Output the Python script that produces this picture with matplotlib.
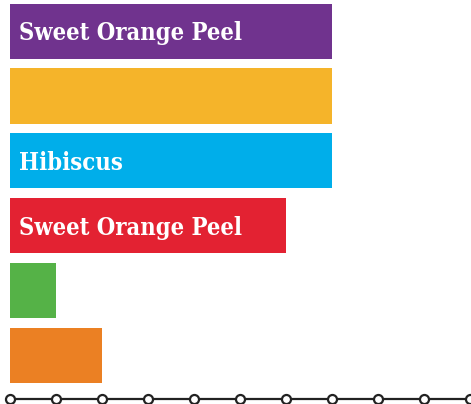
import matplotlib
matplotlib.use("Agg")
import matplotlib.pyplot as plt

# bars listed top to bottom
values = [7, 7, 7, 6, 1, 2]
labels = ["Sweet Orange Peel", "", "Hibiscus", "Sweet Orange Peel", "", ""]
colors = ["#70338E", "#F5B42A", "#00AEEA", "#E32232", "#55B247", "#EB8023"]
ticks = list(range(0, 11))

fig = plt.figure(figsize=(4.71, 4.04), dpi=100)
ax = fig.add_axes([10 / 471, 5 / 404, 460 / 471, 397 / 404])

ypos = list(range(len(values) - 1, -1, -1))
ax.barh(ypos, values, height=0.85, color=colors, left=0)

for y, v, lab in zip(ypos, values, labels):
    if lab:
        ax.text(0.2, y - 0.03, lab, color="white", fontsize=17, fontweight="bold",
                family="DejaVu Serif", fontstretch="condensed", va="center", ha="left")

ax.set_xlim(0, 10)
ax.set_ylim(-0.672, 5.45)

for s in ["top", "right", "left"]:
    ax.spines[s].set_visible(False)
ax.spines["bottom"].set_color("#222222")
ax.spines["bottom"].set_linewidth(1.6)
ax.set_yticks([])
ax.set_xticks([])
ax.plot(ticks, [-0.672] * len(ticks), "o", markersize=6.5, markerfacecolor="white",
        markeredgecolor="#222222", markeredgewidth=1.6, clip_on=False, zorder=5)

fig.savefig("out.png", dpi=100)
